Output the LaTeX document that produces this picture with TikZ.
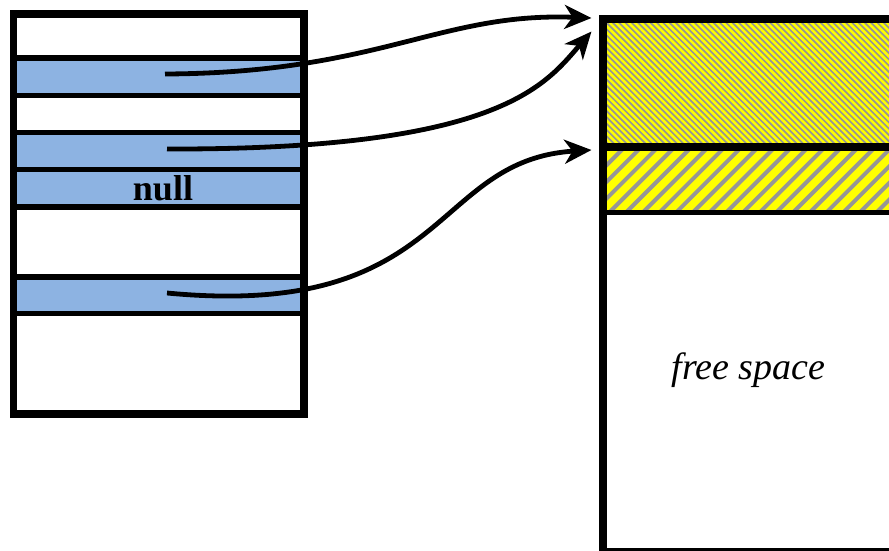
\documentclass[tikz,border=0pt]{standalone}
\usepackage{fontspec}
\setmainfont{Liberation Serif}
\usetikzlibrary{arrows.meta}
\definecolor{cellblue}{RGB}{141,179,226}
\definecolor{hatchgray}{RGB}{150,150,150}
\definecolor{hatchyellow}{RGB}{255,255,0}
\begin{document}
\begin{tikzpicture}[x=1pt,y=-1pt,
  pointer/.style={line width=4.8pt,-{Stealth[length=27pt,width=24pt,inset=8pt]}},
  cellfill/.style={fill=cellblue},
  sepline/.style={line width=5.5pt},
  framebox/.style={line width=7.5pt},
  label/.style={anchor=base, inner sep=0pt}]
\useasboundingbox (0,0) rectangle (889,551);
\clip (0,0) rectangle (889,551);
% ---- left table ----
\fill[white] (13.5,14) rectangle (304,414);
\fill[cellfill] (13.5,58) rectangle (304,95.5);
\fill[cellfill] (13.5,132.7) rectangle (304,207);
\fill[cellfill] (13.5,277) rectangle (304,313.5);
\foreach \yy in {58,95.5,132.7,169.5,207,277,313.5}
  \draw[sepline] (13.5,\yy) -- (304,\yy);
\draw[framebox] (13.5,14) rectangle (304,414);
\node[label, font=\fontsize{36}{40}\selectfont\bfseries] (nulltext) at (163,200) {null};
% ---- right block ----
\begin{scope}
  \clip (607,23.3) rectangle (895,143.3);
  \fill[hatchyellow] (607,23.3) rectangle (895,143.3);
  \foreach \c in {440,446.3,...,900}
    \draw[hatchgray, line width=1.7pt] (\c,20) -- ++(130,130);
\end{scope}
\begin{scope}
  \clip (607,150.7) rectangle (895,210);
  \fill[hatchyellow] (607,150.7) rectangle (895,210);
  \foreach \c in {540,556.7,...,900}
    \draw[hatchgray, line width=4pt] (\c,215) -- ++(70,-70);
\end{scope}
\draw[line width=7.5pt] (603,147) -- (895,147);
\draw[line width=5pt] (603,212.5) -- (895,212.5);
\draw[line width=8pt] (603.3,19.5) rectangle (900,552);
\node[label, font=\fontsize{38}{40}\selectfont\itshape] (freetext) at (748.5,379) {free space};
% ---- pointers ----
\coordinate (s1) at (165,74);
\coordinate (s2) at (167,149);
\coordinate (s3) at (167,293);
\coordinate (e1) at (591.5,18);
\coordinate (e2) at (591.5,31.5);
\coordinate (e3) at (591.5,150);
\draw[pointer] (s1) .. controls (380,73) and (440,12) .. (e1);
\draw[pointer] (s2) .. controls (500,150) and (545,85) .. (e2);
\draw[pointer] (s3) .. controls (450,320) and (430,160) .. (e3);
\end{tikzpicture}
\end{document}
